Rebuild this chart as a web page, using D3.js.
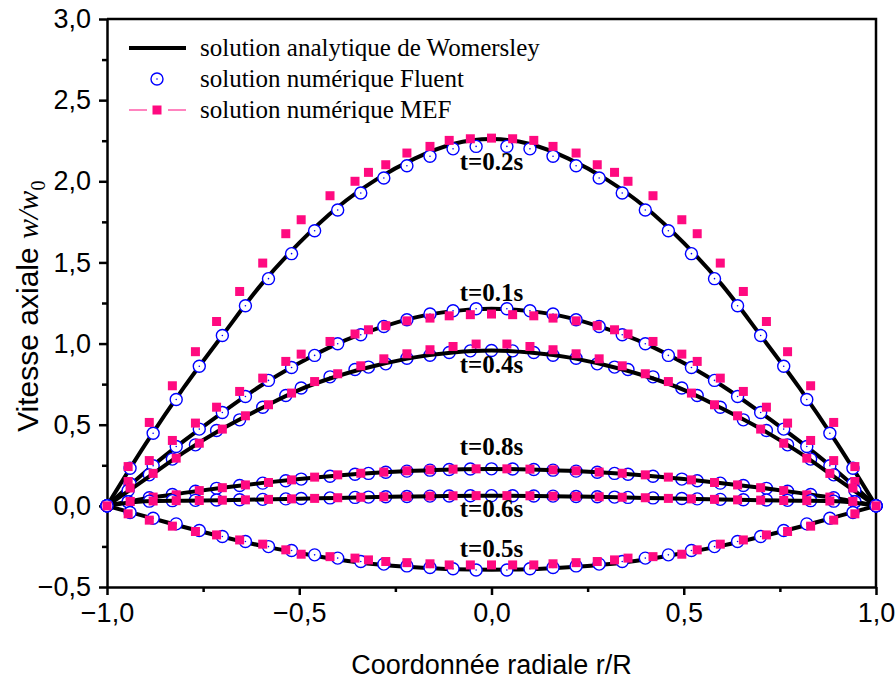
<!DOCTYPE html>
<html>
<head>
<meta charset="utf-8">
<script src="https://cdn.jsdelivr.net/npm/d3@7"></script>
<style>
  body { margin: 0; background: #fff; }
  svg { display: block; }
</style>
</head>
<body>
<script>
// radial positions
let rLine = [-1, -0.9, -0.8, -0.7, -0.6, -0.5, -0.4, -0.3, -0.2, -0.1, 0,
             0.1, 0.2, 0.3, 0.4, 0.5, 0.6, 0.7, 0.8, 0.9, 1];
let rGridA = [-1, -0.94, -0.88, -0.82, -0.76, -0.7, -0.64, -0.58, -0.52, -0.46, -0.4, -0.34,
              -0.28, -0.22, -0.16, -0.1, -0.04, 0.04, 0.1, 0.16, 0.22, 0.28, 0.34, 0.4,
              0.46, 0.52, 0.58, 0.64, 0.7, 0.76, 0.82, 0.88, 0.94, 1];
let rGridB = [-1, -0.945, -0.89, -0.83, -0.77, -0.715, -0.655, -0.595, -0.535, -0.495, -0.42,
              -0.355, -0.32, -0.275, -0.22, -0.16, -0.11, -0.055, 0, 0.055, 0.11, 0.16, 0.22,
              0.275, 0.32, 0.355, 0.42, 0.495, 0.535, 0.595, 0.655, 0.715, 0.77, 0.83, 0.89, 0.945, 1];

// t = 0.2 s
let line02 = [0, 0.38, 0.73, 1.05, 1.36, 1.62, 1.84, 2.01, 2.14, 2.23, 2.26,
              2.23, 2.14, 2.01, 1.84, 1.62, 1.36, 1.05, 0.73, 0.38, 0];
let fluent02 = [0, 0.232, 0.447, 0.655, 0.86, 1.05, 1.233, 1.4, 1.554, 1.695, 1.823, 1.928, 2.02, 2.096, 2.154, 2.2, 2.215,
                2.215, 2.2, 2.154, 2.096, 2.02, 1.928, 1.823, 1.695, 1.554, 1.4, 1.233, 1.05, 0.86, 0.655, 0.447, 0.232, 0];
let mef02 = [0, 0.242, 0.514, 0.74, 0.95, 1.136, 1.321, 1.496, 1.677, 1.763, 1.911, 2.0, 2.055, 2.102, 2.174, 2.215, 2.252, 2.262, 2.266,
             2.262, 2.252, 2.215, 2.174, 2.102, 2.055, 2.0, 1.911, 1.763, 1.677, 1.496, 1.321, 1.136, 0.95, 0.74, 0.514, 0.242, 0];

// t = 0.1 s
let line01 = [0, 0.21, 0.4, 0.575, 0.74, 0.88, 1.0, 1.09, 1.16, 1.2, 1.215,
              1.2, 1.16, 1.09, 1.0, 0.88, 0.74, 0.575, 0.4, 0.21, 0];
let fluent01 = [0, 0.136, 0.247, 0.366, 0.473, 0.575, 0.674, 0.773, 0.853, 0.927, 0.999, 1.054, 1.105, 1.147, 1.182, 1.202, 1.215,
                1.215, 1.202, 1.182, 1.147, 1.105, 1.054, 0.999, 0.927, 0.853, 0.773, 0.674, 0.575, 0.473, 0.366, 0.247, 0.136, 0];
let mef01 = [0, 0.15, 0.279, 0.403, 0.51, 0.608, 0.705, 0.787, 0.89, 0.935, 1.013, 1.059, 1.085, 1.11, 1.14, 1.157, 1.171, 1.178, 1.182,
             1.178, 1.171, 1.157, 1.14, 1.11, 1.085, 1.059, 1.013, 0.935, 0.89, 0.787, 0.705, 0.608, 0.51, 0.403, 0.279, 0.15, 0];

// t = 0.4 s
let line04 = [0, 0.165, 0.33, 0.475, 0.6, 0.715, 0.8, 0.865, 0.915, 0.945, 0.957,
              0.945, 0.915, 0.865, 0.8, 0.715, 0.6, 0.475, 0.33, 0.165, 0];
let fluent04 = [0, 0.095, 0.191, 0.288, 0.376, 0.464, 0.53, 0.608, 0.68, 0.726, 0.795, 0.84, 0.855, 0.875, 0.91, 0.928, 0.945, 0.955, 0.957,
                0.955, 0.945, 0.928, 0.91, 0.875, 0.855, 0.84, 0.795, 0.726, 0.68, 0.608, 0.53, 0.464, 0.376, 0.288, 0.191, 0.095, 0];
let mef04 = [0, 0.11, 0.2, 0.294, 0.386, 0.473, 0.555, 0.623, 0.695, 0.766, 0.814, 0.863, 0.906, 0.937, 0.962, 0.982, 0.997,
             0.997, 0.982, 0.962, 0.937, 0.906, 0.863, 0.814, 0.766, 0.695, 0.623, 0.555, 0.473, 0.386, 0.294, 0.2, 0.11, 0];

// t = 0.8 s
let line08 = [0, 0.045, 0.08, 0.112, 0.14, 0.165, 0.187, 0.204, 0.216, 0.224, 0.227,
              0.224, 0.216, 0.204, 0.187, 0.165, 0.14, 0.112, 0.08, 0.045, 0];
let fluent08 = [0, 0.025, 0.05, 0.07, 0.09, 0.108, 0.125, 0.14, 0.155, 0.165, 0.182, 0.195, 0.2, 0.207, 0.214, 0.22, 0.224, 0.227, 0.228,
                0.227, 0.224, 0.22, 0.214, 0.207, 0.2, 0.195, 0.182, 0.165, 0.155, 0.14, 0.125, 0.108, 0.09, 0.07, 0.05, 0.025, 0];
let mef08 = [0, 0.027, 0.054, 0.068, 0.094, 0.112, 0.129, 0.144, 0.16, 0.177, 0.191, 0.201, 0.208, 0.216, 0.222, 0.226, 0.228,
             0.228, 0.226, 0.222, 0.216, 0.208, 0.201, 0.191, 0.177, 0.16, 0.144, 0.129, 0.112, 0.094, 0.068, 0.054, 0.027, 0];

// t = 0.6 s
let line06 = [0, 0.028, 0.032, 0.035, 0.039, 0.044, 0.049, 0.054, 0.058, 0.061, 0.062,
              0.061, 0.058, 0.054, 0.049, 0.044, 0.039, 0.035, 0.032, 0.028, 0];
let fluent06 = [0, 0.025, 0.029, 0.032, 0.034, 0.036, 0.038, 0.04, 0.043, 0.045, 0.049, 0.052, 0.054, 0.056, 0.058, 0.06, 0.061, 0.062, 0.063,
                0.062, 0.061, 0.06, 0.058, 0.056, 0.054, 0.052, 0.049, 0.045, 0.043, 0.04, 0.038, 0.036, 0.034, 0.032, 0.029, 0.025, 0];
let mef06 = [0, 0.027, 0.03, 0.032, 0.033, 0.035, 0.037, 0.04, 0.043, 0.046, 0.05, 0.053, 0.056, 0.058, 0.06, 0.062, 0.063,
             0.063, 0.062, 0.06, 0.058, 0.056, 0.053, 0.05, 0.046, 0.043, 0.04, 0.037, 0.035, 0.033, 0.032, 0.03, 0.027, 0];

// t = 0.5 s
let line05 = [0, -0.065, -0.13, -0.19, -0.245, -0.29, -0.33, -0.36, -0.378, -0.39, -0.393,
              -0.39, -0.378, -0.36, -0.33, -0.29, -0.245, -0.19, -0.13, -0.065, 0];
let fluent05 = [0, -0.041, -0.076, -0.111, -0.152, -0.189, -0.22, -0.251, -0.275, -0.302, -0.322, -0.343, -0.359, -0.37, -0.38, -0.388, -0.395,
                -0.395, -0.388, -0.38, -0.37, -0.359, -0.343, -0.322, -0.302, -0.275, -0.251, -0.22, -0.189, -0.152, -0.111, -0.076, -0.041, 0];
let mef05 = [0, -0.049, -0.088, -0.125, -0.158, -0.179, -0.21, -0.236, -0.271, -0.298, -0.313, -0.322, -0.333, -0.343, -0.35, -0.357, -0.364, -0.364, -0.364,
             -0.364, -0.364, -0.357, -0.35, -0.343, -0.333, -0.322, -0.313, -0.298, -0.271, -0.236, -0.21, -0.179, -0.158, -0.125, -0.088, -0.049, 0];

let xTicks = [-1, -0.5, 0, 0.5, 1];
let xMinor = [-0.75, -0.25, 0.25, 0.75];
let yTicks = [-0.5, 0, 0.5, 1, 1.5, 2, 2.5, 3];
let yMinor = [-0.25, 0.25, 0.75, 1.25, 1.75, 2.25, 2.75];

let legendLabels = ["solution analytique de Womersley", "solution numérique Fluent", "solution numérique MEF"];

// curves: which grid the circles / squares use, and whether circles sit above the line
let curves = [
  {label: "t=0.2s", lab: 2.07,  line: line02, fl: fluent02, flR: rGridA, mef: mef02, mefR: rGridB, top: true},
  {label: "t=0.1s", lab: 1.264, line: line01, fl: fluent01, flR: rGridA, mef: mef01, mefR: rGridB, top: true},
  {label: "t=0.4s", lab: 0.82,  line: line04, fl: fluent04, flR: rGridB, mef: mef04, mefR: rGridA, top: false},
  {label: "t=0.8s", lab: 0.314, line: line08, fl: fluent08, flR: rGridB, mef: mef08, mefR: rGridA, top: false},
  {label: "t=0.6s", lab: -0.07, line: line06, fl: fluent06, flR: rGridB, mef: mef06, mefR: rGridA, top: false},
  {label: "t=0.5s", lab: -0.315, line: line05, fl: fluent05, flR: rGridA, mef: mef05, mefR: rGridB, top: true}
];

let width = 895,
    height = 682;
let margin = {top: 19, right: 19, bottom: 95, left: 107};

let pink = "#ff0a80",
    blue = "#0000ff";
let sans = "'Liberation Sans', Arial, sans-serif",
    serif = "'Liberation Serif', 'Times New Roman', serif";

let svg = d3.select("body")
            .append("svg")
            .attr("width", width)
            .attr("height", height);

let xScale = d3.scaleLinear()
               .domain([-1, 1])
               .range([margin.left, width - margin.right]);

let yScale = d3.scaleLinear()
               .domain([-0.5, 3])
               .range([height - margin.bottom, margin.top]);

let comma = function(d) { return d3.format(".1f")(d).replace(".", ","); };

// axes
svg.append("g")
   .attr("transform", "translate(0," + (height - margin.bottom) + ")")
   .call(d3.axisBottom(xScale).tickValues(xTicks).tickFormat(comma).tickSize(8).tickPadding(8).tickSizeOuter(0));
svg.append("g")
   .attr("transform", "translate(0," + (height - margin.bottom) + ")")
   .call(d3.axisBottom(xScale).tickValues(xMinor).tickFormat("").tickSize(5).tickSizeOuter(0))
   .select(".domain").remove();

svg.append("g")
   .attr("transform", "translate(" + margin.left + ",0)")
   .call(d3.axisLeft(yScale).tickValues(yTicks).tickFormat(comma).tickSize(8).tickPadding(8).tickSizeOuter(0));
svg.append("g")
   .attr("transform", "translate(" + margin.left + ",0)")
   .call(d3.axisLeft(yScale).tickValues(yMinor).tickFormat("").tickSize(5).tickSizeOuter(0))
   .select(".domain").remove();

svg.selectAll(".domain").attr("stroke-width", 2.5);
svg.selectAll(".tick line").attr("stroke-width", 2.5);
svg.selectAll(".tick text")
   .style("font-family", sans)
   .style("font-size", "27px")
   .attr("fill", "#000");

// frame top and right
svg.append("path")
   .attr("d", "M" + margin.left + "," + yScale(3) + "H" + xScale(1) + "V" + yScale(-0.5))
   .attr("fill", "none")
   .attr("stroke", "#000")
   .attr("stroke-width", 2.5);

// axis titles
svg.append("text")
   .attr("x", xScale(0))
   .attr("y", 674)
   .attr("text-anchor", "middle")
   .style("font-family", sans)
   .style("font-size", "27px")
   .text("Coordonnée radiale r/R");

let yTitle = svg.append("text")
   .attr("transform", "translate(38," + yScale(1.23) + ") rotate(-90)")
   .attr("text-anchor", "middle")
   .style("font-family", sans)
   .style("font-size", "30px");
yTitle.append("tspan").text("Vitesse axiale ");
yTitle.append("tspan").style("font-family", serif).style("font-style", "italic").text("w/w");
yTitle.append("tspan").style("font-family", serif).style("font-size", "20px").attr("dy", 7).text("0");

let line = d3.line()
             .x(function(d) { return xScale(d[0]); })
             .y(function(d) { return yScale(d[1]); })
             .curve(d3.curveMonotoneX);

function drawLine(g, c) {
  g.append("path")
   .datum(d3.zip(rLine, c.line))
   .attr("d", line)
   .attr("fill", "none")
   .attr("stroke", "#000")
   .attr("stroke-width", 4);
}

function drawCircles(g, c) {
  let pts = d3.zip(c.flR, c.fl);
  g.selectAll("circle.fl")
   .data(pts)
   .enter()
   .append("circle")
   .attr("class", "fl")
   .attr("cx", function(d) { return xScale(d[0]); })
   .attr("cy", function(d) { return yScale(d[1]); })
   .attr("r", 6)
   .attr("fill", "#fff")
   .attr("stroke", blue)
   .attr("stroke-width", 1.4);
  g.selectAll("circle.dot")
   .data(pts)
   .enter()
   .append("circle")
   .attr("class", "dot")
   .attr("cx", function(d) { return xScale(d[0]); })
   .attr("cy", function(d) { return yScale(d[1]); })
   .attr("r", 0.8)
   .attr("fill", blue);
}

function drawSquares(g, c) {
  g.selectAll("rect")
   .data(d3.zip(c.mefR, c.mef))
   .enter()
   .append("rect")
   .attr("x", function(d) { return xScale(d[0]) - 4.5; })
   .attr("y", function(d) { return yScale(d[1]) - 4.5; })
   .attr("width", 9)
   .attr("height", 9)
   .attr("fill", pink);
}

curves.forEach(function(c) {
  let g = svg.append("g");
  if (c.top) {
    drawLine(g, c);
    drawCircles(g, c);
  } else {
    drawCircles(g, c);
    drawLine(g, c);
  }
  drawSquares(g, c);
});

// time labels
svg.selectAll("text.tlab")
   .data(curves)
   .enter()
   .append("text")
   .attr("class", "tlab")
   .attr("x", xScale(0))
   .attr("y", function(d) { return yScale(d.lab); })
   .attr("text-anchor", "middle")
   .style("font-family", serif)
   .style("font-weight", "bold")
   .style("font-size", "25px")
   .text(function(d) { return d.label; });

// legend
let lg = svg.append("g");
let rowY = [48, 79, 110];
lg.append("line")
  .attr("x1", 129).attr("x2", 186).attr("y1", rowY[0]).attr("y2", rowY[0])
  .attr("stroke", "#000").attr("stroke-width", 4);
lg.append("circle")
  .attr("cx", 157).attr("cy", rowY[1]).attr("r", 6)
  .attr("fill", "#fff").attr("stroke", blue).attr("stroke-width", 1.4);
lg.append("circle")
  .attr("cx", 157).attr("cy", rowY[1]).attr("r", 0.8).attr("fill", blue);
lg.append("line")
  .attr("x1", 129).attr("x2", 186).attr("y1", rowY[2]).attr("y2", rowY[2])
  .attr("stroke", pink).attr("stroke-width", 1.2).attr("stroke-dasharray", "18,21");
lg.append("rect")
  .attr("x", 152.5).attr("y", rowY[2] - 4.5).attr("width", 9).attr("height", 9)
  .attr("fill", pink);
lg.selectAll("text")
  .data(legendLabels)
  .enter()
  .append("text")
  .attr("x", 200)
  .attr("y", function(d, i) { return rowY[i] + 8; })
  .style("font-family", serif)
  .style("font-size", "25px")
  .text(function(d) { return d; });
</script>
</body>
</html>
